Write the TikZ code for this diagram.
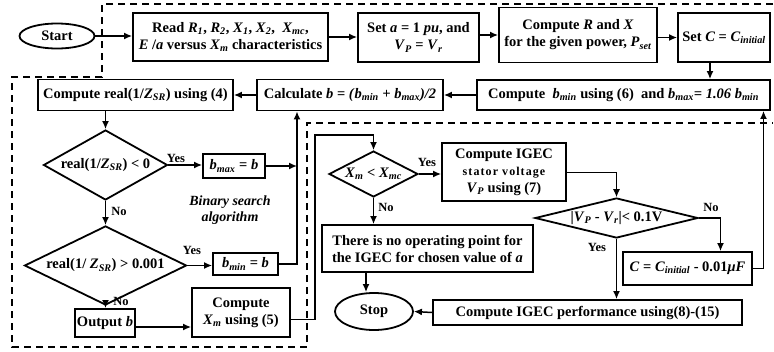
\documentclass[tikz,border=0pt]{standalone}
\usepackage{fontspec}
\setmainfont{Liberation Serif}
\newfontfamily\spacedfont[LetterSpace=9]{Liberation Serif}
\usetikzlibrary{shapes.geometric,arrows.meta}
% italic symbol with an italic subscript
\newcommand{\vs}[2]{\textit{#1}\textsubscript{\textit{#2}}}

\begin{document}
\begin{tikzpicture}[x=1pt,y=-1pt,
  every node/.style={font=\fontsize{14.5}{17}\selectfont\bfseries, inner sep=0pt},
  box/.style={draw, line width=1.8pt, align=center},
  dia/.style={draw, diamond, line width=1.8pt},
  term/.style={draw, ellipse, line width=1.8pt},
  flow/.style={line width=1.5pt, -{Latex[length=8pt,width=7pt]}},
  lbl/.style={font=\fontsize{12.5}{14}\selectfont\bfseries},
  region/.style={line width=1.5pt, dash pattern=on 7pt off 5pt}]
\useasboundingbox (0,0) rectangle (774,351);

% dashed outlines of the two loops
\draw[region] (773,4) -- (102,4) -- (102,77) -- (12,77) -- (12,347) -- (307,347) -- (307,123) -- (773,123);

% top row
\node[term, minimum width=75, minimum height=25] (start) at (57,36) {Start};
\node[box, minimum width=195, minimum height=48] (read) at (230.5,37)
  {Read \vs{R}{1}, \vs{R}{2}, \vs{X}{1}, \vs{X}{2}, \ \vs{X}{mc},\\ \textit{E} /\textit{a} versus \vs{X}{m} characteristics};
\node[box, minimum width=121, minimum height=49] (seta) at (418.5,37.5)
  {Set \textit{a} = 1 \textit{pu}, and\\ \vs{V}{P} = \vs{V}{r}};
\node[box, minimum width=158, minimum height=55] (compRX) at (578,35)
  {Compute \textit{R} and \textit{X}\\ for the given power, \vs{P}{set}};
\node[box, minimum width=92, minimum height=49] (setC) at (724,37.5)
  {Set \textit{C} = \vs{C}{initial}};

% second row
\node[box, minimum width=293, minimum height=30] (bmin) at (623.5,95)
  {Compute \ \vs{b}{min} using (6) \ and \vs{b}{max}\textit{= 1.06} \vs{b}{min}};
\node[box, minimum width=186, minimum height=31] (calc) at (350,95)
  {Calculate \textit{b} = \textit{(}\vs{b}{min} \textit{+} \vs{b}{max}\textit{)/2}};
\node[box, minimum width=195, minimum height=31] (creal) at (135.5,95)
  {Compute real(1/\vs{Z}{SR}) using (4)};

% binary search
\node[dia, minimum width=124, minimum height=70] (d1) at (105.5,165) {\makebox[0pt]{real(1/\vs{Z}{SR}) < 0}};
\node[box, minimum width=62, minimum height=24] (bmax) at (234,166) {\vs{b}{max} = \textit{b}};
\node[dia, minimum width=162, minimum height=79] (d2) at (105.5,265.5) {\makebox[0pt]{real(1/ \vs{Z}{SR}) > 0.001}};
\node[box, minimum width=65, minimum height=22] (bminb) at (245.5,264) {\vs{b}{min} = \textit{b}};
\node[box, minimum width=60, minimum height=28] (outb) at (105,323) {Output \textit{b}};
\node[box, minimum width=98, minimum height=49] (xm) at (241,312.5) {Compute\\ \vs{X}{m} using (5)};
\node[font=\fontsize{14}{16}\selectfont\bfseries\itshape, align=center] (bsa) at (230,210) {Binary search\\ algorithm};

% capacitor loop
\node[dia, minimum width=89, minimum height=46] (d3) at (373.5,174) {\makebox[0pt]{\vs{X}{m} < \vs{X}{mc}}};
\node[box, minimum width=124, minimum height=58] (igec) at (504,172)
  {Compute IGEC\\ {\spacedfont\fontsize{12}{15}\selectfont stator voltage}\\ \vs{V}{P} using (7)};
\node[dia, minimum width=163, minimum height=40] (d4) at (616.5,218) {\makebox[0pt]{|\vs{V}{P} - \vs{V}{r}|< 0.1V}};
\node[box, minimum width=211, minimum height=47] (noop) at (427.5,248.5)
  {There is no operating point for\\ the IGEC for chosen value of \textit{a}};
\node[box, minimum width=129, minimum height=33] (cbox) at (687.5,268.5) {\textit{C} = \vs{C}{initial} - 0.01\textit{μF}};
\node[box, minimum width=309, minimum height=25] (perf) at (587.5,312.5) {Compute IGEC performance using(8)-(15)};
\node[term, minimum width=78, minimum height=37] (stop) at (374,311.5) {Stop};

% branch labels
\node[lbl] (y1) at (176,158) {Yes};
\node[lbl] (n1) at (119,211) {No};
\node[lbl] (y2) at (192,250) {Yes};
\node[lbl] (n2) at (121,301) {No};
\node[lbl] (y3) at (427,162) {Yes};
\node[lbl] (n3) at (386,207) {No};
\node[lbl] (n4) at (711,207) {No};
\node[lbl] (y4) at (597,247) {Yes};

% bend points
\coordinate (riser) at (297,264);
\coordinate (loop) at (315,135);

% connectors
\draw[flow] (start.east) -- (start.east -| read.west);
\draw[flow] (read.east) -- (read.east -| seta.west);
\draw[flow] (seta.east |- compRX.west) -- (compRX.west);
\draw[flow] (compRX.east |- setC.west) -- (setC.west);
\draw[flow] ([xshift=-14pt]setC.south) -- ([xshift=-14pt]setC.south |- bmin.north);
\draw[flow] (bmin.west) -- (calc.east);
\draw[flow] (calc.west) -- (creal.east);
\draw[flow] (d1.north |- creal.south) -- (d1.north);
\draw[flow] (d1.east) -- (d1.east -| bmax.west);
\draw[flow] (bmax.east) -- (bmax.east -| riser);
\draw[flow] (bminb.east) -- (riser) -- (riser |- calc.south);
\draw[flow] (d1.south) -- (d2.north);
\draw[flow] (d2.east) -- (d2.east -| bminb.west);
\draw[flow] (d2.south) -- (d2.south |- outb.north);
\draw[flow] ([yshift=-4pt]outb.east) -- ([yshift=-4pt]outb.east -| xm.west);
\draw[flow] ([yshift=-7pt]xm.east) -| (loop) -| (d3.north);
\draw[flow] (d3.east) -- (d3.east -| igec.west);
\draw[flow] (d3.south) -- (d3.south |- noop.north);
\draw[flow] ([xshift=-8pt]stop.north |- noop.south) -- ([xshift=-8pt]stop.north);
\draw[flow, line width=1pt] (igec.east) -| (d4.north);
\draw[flow] (d4.east) -| ([xshift=33pt]cbox.north);
\draw[flow] (cbox.east) -| ([xshift=140pt]bmin.south);
\draw[flow] (d4.south) -- (d4.south |- perf.north);
\draw[flow] (perf.west) -- (stop.east);
\end{tikzpicture}
\end{document}
